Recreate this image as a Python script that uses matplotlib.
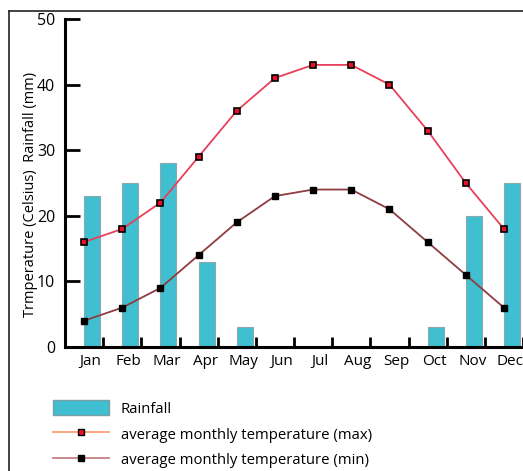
import matplotlib.pyplot as plt
from matplotlib.lines import Line2D
from matplotlib.patches import Patch

months = ["Jan", "Feb", "Mar", "Apr", "May", "Jun", "Jul", "Aug", "Sep", "Oct", "Nov", "Dec"]
rainfall = [23, 25, 28, 13, 3, 0, 0, 0, 0, 3, 20, 25]
temp_max = [16, 18, 22, 29, 36, 41, 43, 43, 40, 33, 25, 18]
temp_min = [4, 6, 9, 14, 19, 23, 24, 24, 21, 16, 11, 6]

plt.rcParams["font.family"] = ["Open Sans", "DejaVu Sans"]

fig = plt.figure(figsize=(5.23, 4.71), dpi=100)
ax = fig.add_axes([0.1243, 0.2633, 0.8757, 0.6964])

x = list(range(len(months)))
ax.bar(x, rainfall, width=0.42, align="edge", color="#40BFD0",
       edgecolor="#8aa8ad", linewidth=0.8, zorder=1)
ax.plot(x, temp_max, color="#e8405a", lw=1.3, marker="s", ms=5,
        mfc="#e8102a", mec="black", mew=1.2, zorder=3)
ax.plot(x, temp_min, color="#8e3c40", lw=1.3, marker="s", ms=5,
        mfc="black", mec="black", zorder=3)

ax.set_xlim(-0.5, 11.5)
ax.set_ylim(0, 50)
ax.set_yticks([0, 10, 20, 30, 40, 50])
ax.set_xticks([i + 0.5 for i in x])
ax.set_xticklabels([])
ax.set_xticks([i + 0.17 for i in x], minor=True)
ax.set_xticklabels(months, minor=True)
ax.tick_params(axis="x", which="minor", length=0, pad=5, labelsize=11)
ax.tick_params(axis="x", which="major", direction="in", length=7, width=2)
ax.tick_params(axis="y", direction="in", length=11, width=2, labelsize=11.5, pad=7)
for s in ["top", "right"]:
    ax.spines[s].set_visible(False)
ax.spines["left"].set_linewidth(2.2)
ax.spines["bottom"].set_linewidth(2.2)
ax.set_ylabel("Trmperature (Celsius)  Rainfall (mm)", fontsize=10.5)
ax.yaxis.set_label_coords(-0.058, 0.465)

# outer frame
fig.add_artist(Line2D([9 / 523, 9 / 523], [0, 1 - 11 / 471], color="#222222", lw=1.2))
fig.add_artist(Line2D([9 / 523, 1], [1 - 11 / 471, 1 - 11 / 471], color="#222222", lw=1.2))

handles = [
    Patch(facecolor="#40BFD0", edgecolor="#7a9ea3"),
    Line2D([], [], color="#ffa070", lw=1.3, marker="s", ms=5, mfc="#e8102a", mec="black"),
    Line2D([], [], color="#c88080", lw=1.3, marker="s", ms=5, mfc="black", mec="black"),
]
labels = ["Rainfall", "average monthly temperature (max)", "average monthly temperature (min)"]
fig.legend(handles, labels, loc="upper left", bbox_to_anchor=(0.09, 0.163),
           frameon=False, fontsize=10.7, handlelength=3.8, handleheight=1.2,
           labelspacing=0.62, handletextpad=0.75, borderaxespad=0)

fig.savefig("out.png", dpi=100)
